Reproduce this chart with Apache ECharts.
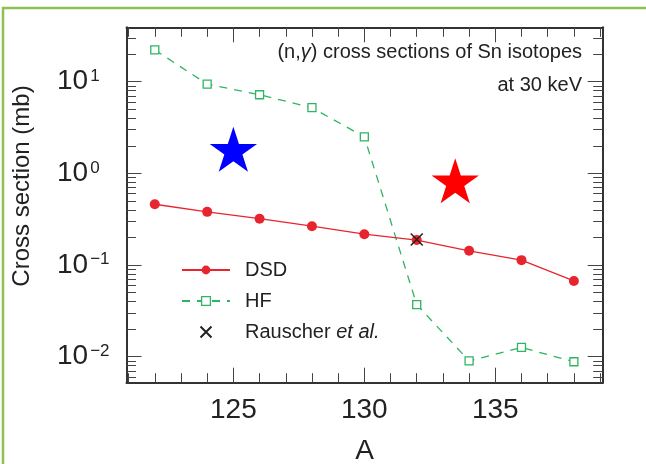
<!DOCTYPE html>
<html>
<head>
<meta charset="utf-8">
<style>
  html, body { margin: 0; padding: 0; background: #fff; }
  #chart { width: 646px; height: 464px; }
</style>
<script src="https://cdn.jsdelivr.net/npm/echarts@6/dist/echarts.min.js"></script>
</head>
<body>
<div id="chart"></div>
<script>
// mass number A of the Sn isotopes
const massNumbers = [122, 124, 126, 128, 130, 132, 134, 136, 138];
// (n,gamma) cross sections at 30 keV (mb)
const dsdValues = [0.46, 0.38, 0.32, 0.265, 0.217, 0.187, 0.143, 0.113, 0.067];
const hfValues = [22.2, 9.4, 7.2, 5.2, 2.5, 0.037, 0.009, 0.0126, 0.0088];
const rauscherA = [132];
const rauscherValues = [0.19];
// the two star markers
const starA = [125, 133.47];
const starValues = [1.83, 0.83];
const starColors = ['#0000ff', '#ff0000'];

// ticks
const xMajorTicks = [125, 130, 135];
const xMinorTicks = [121, 122, 123, 124, 125, 126, 127, 128, 129, 130,
  131, 132, 133, 134, 135, 136, 137, 138, 139];
const yMajorTicks = [0.01, 0.1, 1, 10];
const yMinorTicks = [0.006, 0.007, 0.008, 0.009,
  0.02, 0.03, 0.04, 0.05, 0.06, 0.07, 0.08, 0.09,
  0.2, 0.3, 0.4, 0.5, 0.6, 0.7, 0.8, 0.9,
  2, 3, 4, 5, 6, 7, 8, 9, 20, 30];

const FONT = '"Liberation Sans", Arial, Helvetica, sans-serif';
const AXIS_COLOR = '#333';
const TEXT_COLOR = '#222';
const RED = '#e8252e';
const GREEN = '#2fb463';
const STAR_PATH = 'path://M50,0L61.23,34.55L97.55,34.55L68.17,55.9L79.39,90.45L50,69.1L20.61,90.45L31.83,55.9L2.45,34.55L38.77,34.55Z';
const X_PATH = 'path://M0,0L12,12M12,0L0,12';

function xAxisOf(position, ticks, len, withLine) {
  return {
    type: 'value', position: position, min: 120.92, max: 139.1,
    axisLine: { show: withLine, onZero: false, lineStyle: { color: AXIS_COLOR, width: 2 } },
    axisTick: { show: true, inside: true, length: len, customValues: ticks,
      lineStyle: { color: '#444', width: 1 } },
    axisLabel: { show: false },
    splitLine: { show: false }
  };
}

function yAxisOf(position, ticks, len, withLine) {
  return {
    type: 'log', position: position, min: 0.0052, max: 39.2,
    axisLine: { show: withLine, onZero: false, lineStyle: { color: AXIS_COLOR, width: 2 } },
    axisTick: { show: true, inside: true, length: len, customValues: ticks,
      lineStyle: { color: '#444', width: 1 } },
    axisLabel: { show: false },
    splitLine: { show: false },
    minorTick: { show: false }
  };
}

const xMain = xAxisOf('bottom', xMajorTicks, 15, true);
xMain.axisLabel = {
  show: true, customValues: xMajorTicks, margin: 14,
  fontFamily: FONT, fontSize: 28, color: TEXT_COLOR
};
xMain.name = 'A';
xMain.nameLocation = 'middle';
xMain.nameGap = 55;
xMain.nameTextStyle = { fontFamily: FONT, fontSize: 28, color: TEXT_COLOR };

const yMain = yAxisOf('left', yMajorTicks, 15, true);
yMain.axisLabel = {
  show: true, customValues: yMajorTicks, align: 'left', margin: 69.5,
  formatter: function (v) {
    const e = Math.round(Math.log10(v));
    return '{b|10}{s|' + (e < 0 ? '\u2212' + (-e) : e) + '}';
  },
  rich: {
    b: { fontFamily: FONT, fontSize: 28, color: TEXT_COLOR },
    s: { fontFamily: FONT, fontSize: 17, color: TEXT_COLOR, verticalAlign: 'top', padding: [0, 0, 0, 2] }
  }
};
yMain.name = 'Cross section (mb)';
yMain.nameLocation = 'middle';
yMain.nameGap = 92;
yMain.nameTextStyle = { fontFamily: FONT, fontSize: 24, color: TEXT_COLOR, padding: [0, 0, 0, 38] };

const chart = echarts.init(document.getElementById('chart'));
chart.setOption({
  animation: false,
  backgroundColor: '#fff',
  grid: { left: 126.5, right: 43.3, top: 27.3, bottom: 81.3, outerBoundsMode: 'none', containLabel: false },
  xAxis: [
    xMain,
    xAxisOf('bottom', xMinorTicks, 9.5, false),
    xAxisOf('top', xMajorTicks, 15, true),
    xAxisOf('top', xMinorTicks, 9.5, false)
  ],
  yAxis: [
    yMain,
    yAxisOf('left', yMinorTicks, 9.5, false),
    yAxisOf('right', yMajorTicks, 15, true),
    yAxisOf('right', yMinorTicks, 9.5, false)
  ],
  legend: {
    data: [
      { name: 'DSD' },
      { name: 'HF', itemStyle: { borderWidth: 1.3 } },
      { name: 'Rauscher' }
    ],
    orient: 'vertical',
    left: 181, top: 260, padding: 0,
    itemWidth: 48, itemHeight: 11, itemGap: 11,
    selectedMode: false,
    formatter: function (n) { return n === 'Rauscher' ? '{r|Rauscher }{i|et al.}' : n; },
    textStyle: {
      fontFamily: FONT, fontSize: 20, color: TEXT_COLOR, lineHeight: 20, padding: [0, 0, 0, 10],
      rich: {
        r: { fontFamily: FONT, fontSize: 20, color: TEXT_COLOR },
        i: { fontFamily: FONT, fontSize: 20, color: TEXT_COLOR, fontStyle: 'italic' }
      }
    }
  },
  graphic: [
    {
      type: 'rect', silent: true,
      shape: { x: 3, y: 8, width: 700, height: 500 },
      style: { fill: 'none', stroke: '#8cc152', lineWidth: 2.5 }
    },
    {
      type: 'text', x: 582, y: 52, silent: true,
      style: {
        text: '(n,{g|γ}) cross sections of Sn isotopes',
        align: 'right', verticalAlign: 'middle',
        fontFamily: FONT, fontSize: 20, fill: TEXT_COLOR,
        rich: { g: { fontFamily: FONT, fontSize: 20, fontStyle: 'italic', fill: TEXT_COLOR } }
      }
    },
    {
      type: 'text', x: 582, y: 85, silent: true,
      style: {
        text: 'at 30 keV', align: 'right', verticalAlign: 'middle',
        fontFamily: FONT, fontSize: 20, fill: TEXT_COLOR
      }
    }
  ],
  series: [
    {
      name: 'stars', type: 'scatter', xAxisIndex: 0, yAxisIndex: 0, z: 1,
      symbol: STAR_PATH, symbolSize: [47.3, 45],
      data: starA.map(function (a, i) {
        return { value: [a, starValues[i]], itemStyle: { color: starColors[i], opacity: 1 } };
      })
    },
    {
      name: 'DSD', type: 'line', xAxisIndex: 0, yAxisIndex: 0, z: 3,
      symbol: 'circle', symbolSize: 10,
      itemStyle: { color: RED },
      lineStyle: { color: RED, width: 1.3 },
      data: massNumbers.map(function (a, i) { return [a, dsdValues[i]]; })
    },
    {
      name: 'HF', type: 'line', xAxisIndex: 0, yAxisIndex: 0, z: 2,
      symbol: 'rect', symbolSize: 8,
      itemStyle: { color: '#fff', borderColor: GREEN, borderWidth: 1.3 },
      lineStyle: { color: GREEN, width: 1.3, type: [8, 7] },
      data: massNumbers.map(function (a, i) { return [a, hfValues[i]]; })
    },
    {
      name: 'Rauscher', type: 'scatter', xAxisIndex: 0, yAxisIndex: 0, z: 4,
      symbol: X_PATH, symbolSize: 12, symbolKeepAspect: true,
      itemStyle: { color: 'rgba(0,0,0,0)', borderColor: '#222', borderWidth: 1.5, opacity: 1 },
      data: rauscherA.map(function (a, i) { return [a, rauscherValues[i]]; })
    }
  ]
});
</script>
</body>
</html>
